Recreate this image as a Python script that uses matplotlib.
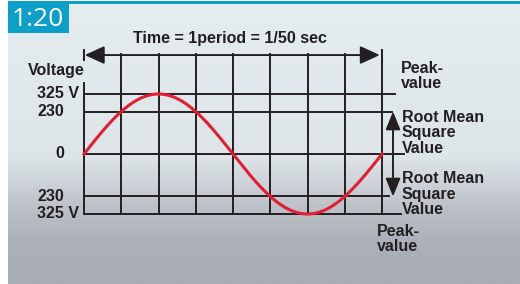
import numpy as np
import matplotlib.pyplot as plt
from matplotlib.patches import Rectangle

# data: one period of the 50 Hz mains voltage
peak_volts = 325
rms_volts = 230
frequency_hz = 50
period_ms = 1000 / frequency_hz
divisions = 8

tick_values = [325, 230, 0, -230, -325]
tick_labels = ['325 V', '230', '0', '230', '325 V']

ink = '#231f20'
red = '#e31d34'
blue = '#0d9fc7'

fig = plt.figure(figsize=(5.2, 2.84), dpi=100)
fig.patch.set_facecolor('white')

# background panel with gradient + badge (pixel coordinates)
bg = fig.add_axes([0, 0, 1, 1])
bg.set_xlim(0, 520)
bg.set_ylim(284, 0)
bg.axis('off')
stops = np.array([0.0, 0.55, 0.72, 0.85, 1.0])
cols = np.array([[229, 237, 241], [222, 229, 233], [190, 195, 201],
                 [172, 176, 184], [168, 172, 180]]) / 255
yy = np.linspace(0, 1, 200)
grad = np.stack([np.interp(yy, stops, cols[:, i]) for i in range(3)], axis=1)
bg.imshow(grad[:, None, :], extent=[8, 520, 284, 3], aspect='auto', zorder=0)
bg.add_patch(Rectangle((8, 1), 512, 3, color=blue, lw=0, zorder=1))
bg.add_patch(Rectangle((8, 3), 61, 30, color=blue, lw=0, zorder=1))
bg.text(12, 19, '1:20', color='white', fontsize=19, family='Open Sans',
        ha='left', va='center', zorder=2)

# chart axes: x in ms, y in volts
ax = fig.add_axes([84 / 520, 1 - 214 / 284, 298 / 520, 120 / 284])
ax.set_xlim(0, period_ms)
ax.set_ylim(-peak_volts, peak_volts)
ax.axis('off')

lw = 1.4
top_v = 542
grid_t = np.linspace(0, period_ms, divisions + 1)
for t in grid_t[1:-1]:
    ax.plot([t, t], [-peak_volts, top_v], color=ink, lw=lw, clip_on=False)
ax.plot([0, 0], [-peak_volts, 385], color=ink, lw=lw, clip_on=False)
ax.plot([period_ms, period_ms], [-peak_volts, 563], color=ink, lw=lw, clip_on=False)

# horizontal reference lines (right ends stretch toward the labels)
h_ends = [20.87, 20.67, 21.5, 20.5, 21.3]
for v, end in zip(tick_values, h_ends):
    ax.plot([0, end], [v, v], color=ink, lw=lw, clip_on=False)

# sine wave
t = np.linspace(0, period_ms, 300)
v = peak_volts * np.sin(2 * np.pi * frequency_hz * t / 1000)
ax.plot(t, v, color=red, lw=2.2, clip_on=False, zorder=5)

# time arrow
ax.plot([0, 0], [509, 563], color=ink, lw=lw, clip_on=False)
ax.annotate('', xy=(19.85, 536), xytext=(0.05, 536), annotation_clip=False,
            arrowprops=dict(arrowstyle='<|-|>,head_length=1.2,head_width=0.55',
                            color=ink, lw=lw, shrinkA=0, shrinkB=0))
ax.text(9.8, 628, 'Time = 1period = 1/50 sec', ha='center', va='center',
        fontsize=11.5, fontweight='bold', color=ink, family='Liberation Sans')

# RMS arrows
for tip in [rms_volts, -rms_volts]:
    ax.annotate('', xy=(20.74, tip), xytext=(20.74, 0), annotation_clip=False,
                arrowprops=dict(arrowstyle='-|>,head_length=1.1,head_width=0.45',
                                color=ink, lw=lw, shrinkA=0, shrinkB=0))

# left labels
lab_kw = dict(fontsize=11.5, fontweight='bold', color=ink, family='Liberation Sans',
              va='center')
label_x = [-3.15, -3.15, -1.95, -3.15, -3.15]
for v, s, x in zip(tick_values, tick_labels, label_x):
    ax.text(x, v, s, ha='left', **lab_kw)
ax.text(-3.76, 455, 'Voltage', ha='left', **lab_kw)

# right labels
ax.text(21.28, 422, 'Peak-\nvalue', ha='left', linespacing=1.03, **lab_kw)
ax.text(21.34, 114, 'Root Mean\nSquare\nValue', ha='left', linespacing=1.03, **lab_kw)
ax.text(21.34, -217, 'Root Mean\nSquare\nValue', ha='left', linespacing=1.03, **lab_kw)
ax.text(19.66, -460, 'Peak-\nvalue', ha='left', linespacing=1.03, **lab_kw)

fig.savefig('out.png', dpi=100)
